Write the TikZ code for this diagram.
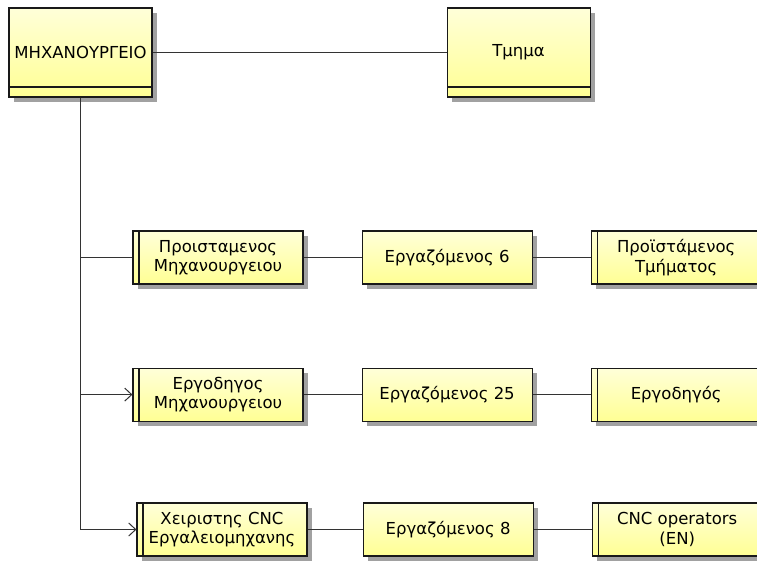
\documentclass[tikz,border=0pt]{standalone}
\usepackage{fontspec}
\setmainfont{DejaVu Sans}
\usetikzlibrary{arrows.meta, positioning, shadows}

\begin{document}
\begin{tikzpicture}[
  x=1pt, y=-1pt,
  node distance=58pt,
  box/.style={draw=black!90, line width=1.1pt, top color=yellow!15, bottom color=yellow!42,
    drop shadow={shadow xshift=5pt, shadow yshift=-5pt, fill=black!37, opacity=1},
    align=center, inner sep=0pt, font=\fontsize{16.5}{19.5}\selectfont},
  entity/.style={box, minimum width=143pt, minimum height=89pt,
    path picture={\draw[black!90, line width=1.1pt]
      ([yshift=10pt]path picture bounding box.south west) --
      ([yshift=10pt]path picture bounding box.south east);}},
  rolebox/.style={box, minimum width=170pt, minimum height=53pt},
  actor/.style={rolebox,
    path picture={\draw[black!90, line width=1.1pt]
      ([xshift=6pt]path picture bounding box.south west) --
      ([xshift=6pt]path picture bounding box.north west);}},
  link/.style={draw=black!80, line width=1pt},
  assoc/.style={link, -{Straight Barb[length=7pt, width=13pt]}}
]
\useasboundingbox (0,0) rectangle (757,562);
\clip (0,0) rectangle (757,562);

% top level
\node[entity] (shop) at (80.5,52.5) {ΜΗΧΑΝΟΥΡΓΕΙΟ};
\node[entity, right=294pt of shop] (dept) {Τμημα};

% roles, one row each
\node[actor] (r1a) at (218,257.5) {Προισταμενος\\Μηχανουργειου};
\node[rolebox, right=of r1a] (r1b) {Εργαζόμενος 6};
\node[actor, right=of r1b] (r1c) {Προϊστάμενος\\Τμήματος};

\node[actor, below=83pt of r1a] (r2a) {Εργοδηγος\\Μηχανουργειου};
\node[rolebox, right=of r2a] (r2b) {Εργαζόμενος 25};
\node[actor, right=of r2b] (r2c) {Εργοδηγός};

\node[actor] (r3a) at (222,529.5) {Χειριστης CNC\\Εργαλειομηχανης};
\node[rolebox, right=55pt of r3a] (r3b) {Εργαζόμενος 8};
\node[actor, right=of r3b] (r3c) {CNC operators\\(EN)};

\draw[link] (shop) -- (dept);
\draw[link] (shop.south) |- (r1a);
\draw[assoc] (shop.south) |- (r2a);
\draw[assoc] (shop.south) |- (r3a);

\draw[link] (r1a) -- (r1b);
\draw[link] (r1b) -- (r1c);
\draw[link] (r2a) -- (r2b);
\draw[link] (r2b) -- (r2c);
\draw[link] (r3a) -- (r3b);
\draw[link] (r3b) -- (r3c);
\end{tikzpicture}
\end{document}
